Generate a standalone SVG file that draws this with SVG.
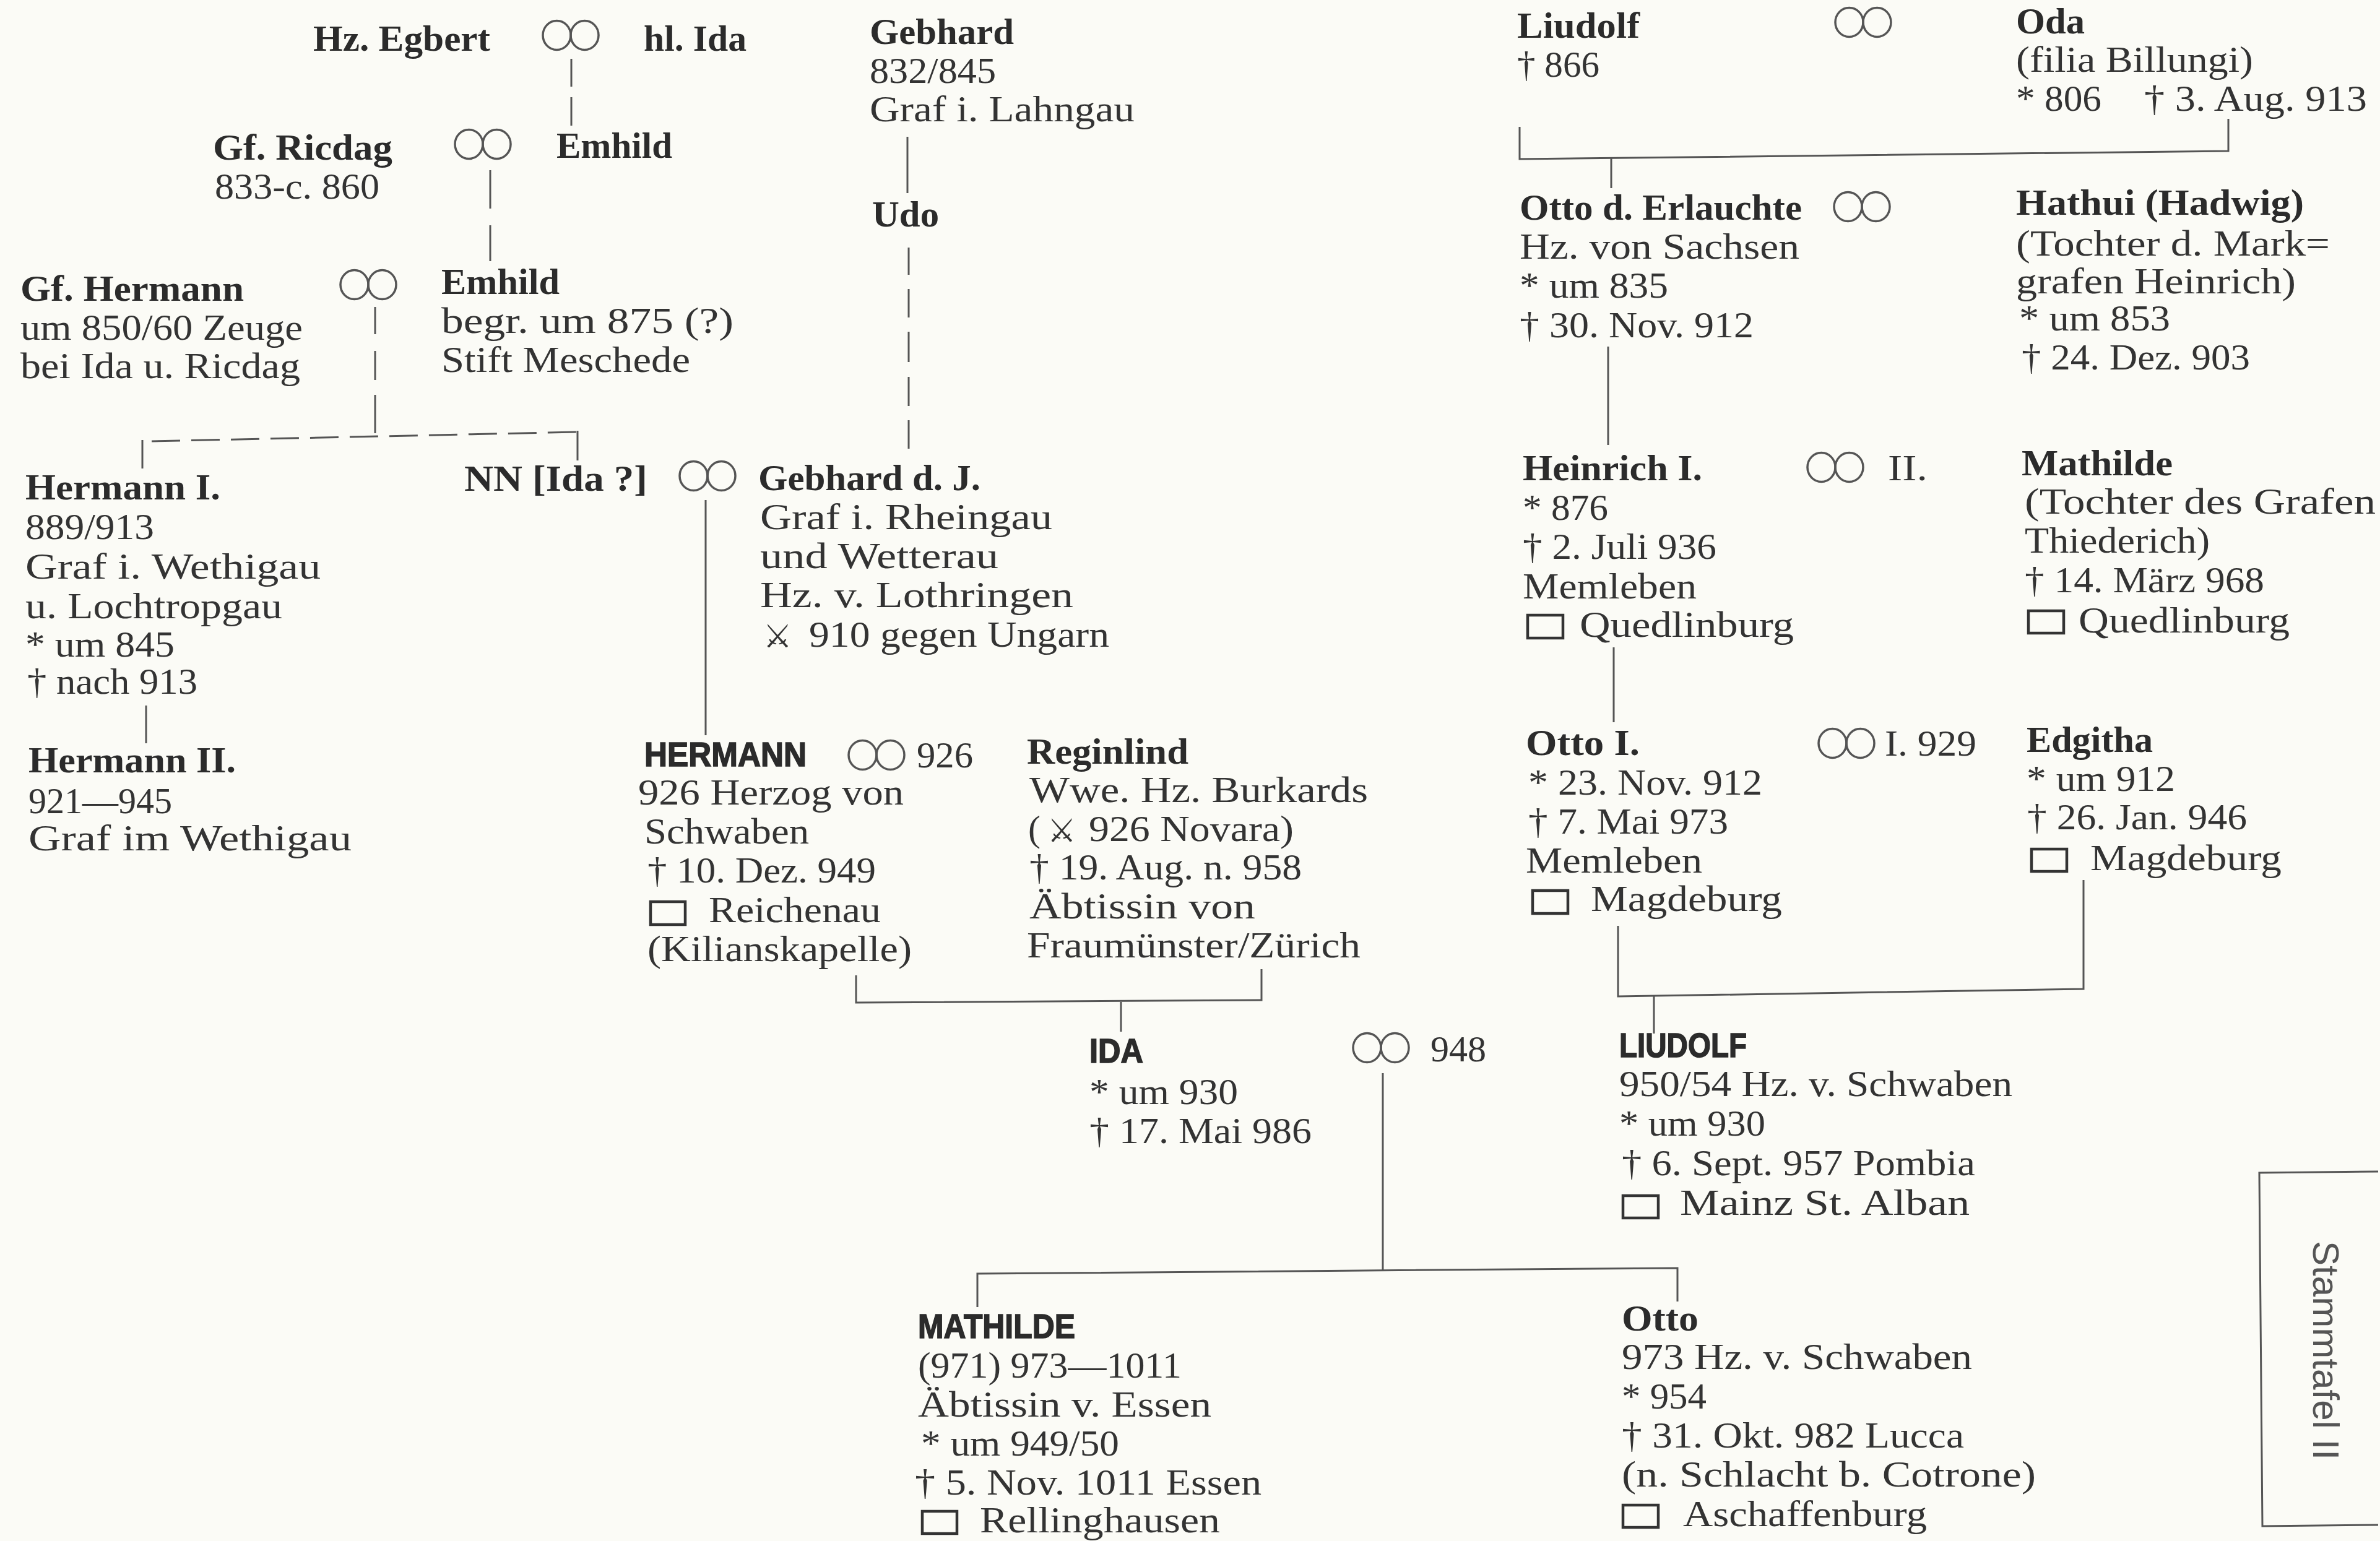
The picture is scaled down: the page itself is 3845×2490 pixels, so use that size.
<svg xmlns="http://www.w3.org/2000/svg" xmlns:xlink="http://www.w3.org/1999/xlink" width="3845" height="2490" viewBox="0 0 3845 2490">
<defs>
<style>
.r{font-family:"Liberation Serif","Times New Roman",serif;font-size:60px;fill:#333}
.b{font-family:"Liberation Serif","Times New Roman",serif;font-size:60px;font-weight:bold;fill:#2b2b2b}
.s{font-family:"Liberation Sans",Arial,sans-serif;font-size:56px;font-weight:bold;fill:#2b2b2b;stroke:#2b2b2b;stroke-width:1.6}
.sym{font-family:"DejaVu Sans",sans-serif;font-size:52px;fill:#333}
.lab{font-family:"Liberation Sans",Arial,sans-serif;font-size:60px;fill:#555}
.ln{stroke:#555;stroke-width:3;fill:none}
.box{stroke:#333;stroke-width:4.5;fill:none}
.inf{stroke:#555;stroke-width:3.5;fill:none}
</style>
<g id="inf">
<ellipse class="inf" cx="-22.5" cy="0" rx="22.5" ry="23.5"/>
<ellipse class="inf" cx="22.5" cy="0" rx="22.5" ry="23.5"/>
</g>
</defs>
<rect x="0" y="0" width="3845" height="2490" fill="#fbfbf6"/>

<g id="connectors">
<line class="ln" x1="923" y1="95" x2="923" y2="140"/>
<line class="ln" x1="923" y1="157" x2="923" y2="203"/>
<line class="ln" x1="792" y1="275" x2="792" y2="337"/>
<line class="ln" x1="792" y1="364" x2="792" y2="422"/>
<line class="ln" x1="606" y1="496" x2="606" y2="540"/>
<line class="ln" x1="606" y1="567" x2="606" y2="614"/>
<line class="ln" x1="606" y1="638" x2="606" y2="700"/>
<line class="ln" x1="245" y1="713" x2="933" y2="698" stroke-dasharray="46 18"/>
<line class="ln" x1="230" y1="711" x2="230" y2="757"/>
<line class="ln" x1="933" y1="696" x2="933" y2="744"/>
<line class="ln" x1="236" y1="1140" x2="236" y2="1201"/>
<line class="ln" x1="1140" y1="808" x2="1140" y2="1188"/>
<line class="ln" x1="1466" y1="221" x2="1466" y2="312"/>
<line class="ln" x1="1468" y1="400" x2="1468" y2="444"/>
<line class="ln" x1="1468" y1="467" x2="1468" y2="513"/>
<line class="ln" x1="1468" y1="536" x2="1468" y2="585"/>
<line class="ln" x1="1468" y1="609" x2="1468" y2="656"/>
<line class="ln" x1="1468" y1="679" x2="1468" y2="725"/>
<polyline class="ln" points="1383,1576 1383,1620 2038,1616 2038,1566"/>
<line class="ln" x1="1811" y1="1619" x2="1811" y2="1667"/>
<line class="ln" x1="2234" y1="1734" x2="2234" y2="2054"/>
<polyline class="ln" points="1579,2112 1579,2058 2710,2049 2710,2103"/>
<polyline class="ln" points="2455,205 2455,257 3600,244 3600,192"/>
<line class="ln" x1="2603" y1="256" x2="2603" y2="304"/>
<line class="ln" x1="2598" y1="560" x2="2598" y2="719"/>
<line class="ln" x1="2607" y1="1046" x2="2607" y2="1167"/>
<polyline class="ln" points="2614,1496 2614,1610 3366,1598 3366,1422"/>
<line class="ln" x1="2672" y1="1609" x2="2672" y2="1670"/>
</g>

<g id="marriages">
<use xlink:href="#inf" href="#inf" x="922" y="57"/>
<use xlink:href="#inf" href="#inf" x="780" y="233"/>
<use xlink:href="#inf" href="#inf" x="595" y="460"/>
<use xlink:href="#inf" href="#inf" x="1143" y="769"/>
<use xlink:href="#inf" href="#inf" x="1416" y="1220"/>
<text class="r" x="1481" y="1240" textLength="91" lengthAdjust="spacingAndGlyphs">926</text>
<use xlink:href="#inf" href="#inf" x="2231" y="1693"/>
<text class="r" x="2311" y="1715" textLength="90" lengthAdjust="spacingAndGlyphs">948</text>
<use xlink:href="#inf" href="#inf" x="3010" y="36"/>
<use xlink:href="#inf" href="#inf" x="3008" y="334"/>
<use xlink:href="#inf" href="#inf" x="2965" y="755"/>
<text class="r" x="3050" y="776" textLength="64" lengthAdjust="spacingAndGlyphs">II.</text>
<use xlink:href="#inf" href="#inf" x="2983" y="1201"/>
<text class="r" x="3045" y="1221" textLength="148" lengthAdjust="spacingAndGlyphs">I. 929</text>
</g>

<g id="egbert"><text class="b" x="506" y="82" textLength="286" lengthAdjust="spacingAndGlyphs">Hz. Egbert</text></g>
<g id="ida-hl"><text class="b" x="1040" y="82" textLength="166" lengthAdjust="spacingAndGlyphs">hl. Ida</text></g>
<g id="ricdag">
<text class="b" x="344" y="258" textLength="290" lengthAdjust="spacingAndGlyphs">Gf. Ricdag</text>
<text class="r" x="347" y="321" textLength="266" lengthAdjust="spacingAndGlyphs">833-c. 860</text>
</g>
<g id="emhild1"><text class="b" x="899" y="255" textLength="187" lengthAdjust="spacingAndGlyphs">Emhild</text></g>
<g id="hermann-gf">
<text class="b" x="33" y="486" textLength="361" lengthAdjust="spacingAndGlyphs">Gf. Hermann</text>
<text class="r" x="33" y="549" textLength="456" lengthAdjust="spacingAndGlyphs">um 850/60 Zeuge</text>
<text class="r" x="33" y="611" textLength="452" lengthAdjust="spacingAndGlyphs">bei Ida u. Ricdag</text>
</g>
<g id="emhild2">
<text class="b" x="713" y="475" textLength="191" lengthAdjust="spacingAndGlyphs">Emhild</text>
<text class="r" x="713" y="538" textLength="472" lengthAdjust="spacingAndGlyphs">begr. um 875 (?)</text>
<text class="r" x="713" y="601" textLength="402" lengthAdjust="spacingAndGlyphs">Stift Meschede</text>
</g>
<g id="hermann1">
<text class="b" x="41" y="807" textLength="315" lengthAdjust="spacingAndGlyphs">Hermann I.</text>
<text class="r" x="41" y="871" textLength="208" lengthAdjust="spacingAndGlyphs">889/913</text>
<text class="r" x="41" y="935" textLength="477" lengthAdjust="spacingAndGlyphs">Graf i. Wethigau</text>
<text class="r" x="41" y="999" textLength="415" lengthAdjust="spacingAndGlyphs">u. Lochtropgau</text>
<text class="r" x="41" y="1061" textLength="241" lengthAdjust="spacingAndGlyphs">* um 845</text>
<text class="r" x="44" y="1121" textLength="275" lengthAdjust="spacingAndGlyphs">† nach 913</text>
</g>
<g id="hermann2">
<text class="b" x="46" y="1248" textLength="335" lengthAdjust="spacingAndGlyphs">Hermann II.</text>
<text class="r" x="46" y="1314" textLength="232" lengthAdjust="spacingAndGlyphs">921—945</text>
<text class="r" x="46" y="1374" textLength="522" lengthAdjust="spacingAndGlyphs">Graf im Wethigau</text>
</g>
<g id="nn"><text class="b" x="750" y="793" textLength="296" lengthAdjust="spacingAndGlyphs">NN [Ida ?]</text></g>
<g id="gebhard">
<text class="b" x="1405" y="71" textLength="233" lengthAdjust="spacingAndGlyphs">Gebhard</text>
<text class="r" x="1405" y="134" textLength="204" lengthAdjust="spacingAndGlyphs">832/845</text>
<text class="r" x="1405" y="196" textLength="428" lengthAdjust="spacingAndGlyphs">Graf i. Lahngau</text>
</g>
<g id="udo"><text class="b" x="1409" y="366" textLength="108" lengthAdjust="spacingAndGlyphs">Udo</text></g>
<g id="gebhard-dj">
<text class="b" x="1225" y="792" textLength="359" lengthAdjust="spacingAndGlyphs">Gebhard d. J.</text>
<text class="r" x="1228" y="855" textLength="472" lengthAdjust="spacingAndGlyphs">Graf i. Rheingau</text>
<text class="r" x="1228" y="918" textLength="385" lengthAdjust="spacingAndGlyphs">und Wetterau</text>
<text class="r" x="1228" y="981" textLength="506" lengthAdjust="spacingAndGlyphs">Hz. v. Lothringen</text>
<text class="sym" x="1233" y="1046">⚔</text>
<text class="r" x="1307" y="1045" textLength="485" lengthAdjust="spacingAndGlyphs">910 gegen Ungarn</text>
</g>
<g id="hermann-hz">
<text class="s" x="1041" y="1238" textLength="262" lengthAdjust="spacingAndGlyphs">HERMANN</text>
<text class="r" x="1031" y="1300" textLength="429" lengthAdjust="spacingAndGlyphs">926 Herzog von</text>
<text class="r" x="1041" y="1363" textLength="266" lengthAdjust="spacingAndGlyphs">Schwaben</text>
<text class="r" x="1046" y="1426" textLength="369" lengthAdjust="spacingAndGlyphs">† 10. Dez. 949</text>
<rect class="box" x="1051" y="1457" width="56" height="37"/>
<text class="r" x="1145" y="1490" textLength="278" lengthAdjust="spacingAndGlyphs">Reichenau</text>
<text class="r" x="1046" y="1553" textLength="427" lengthAdjust="spacingAndGlyphs">(Kilianskapelle)</text>
</g>
<g id="reginlind">
<text class="b" x="1659" y="1234" textLength="261" lengthAdjust="spacingAndGlyphs">Reginlind</text>
<text class="r" x="1663" y="1296" textLength="547" lengthAdjust="spacingAndGlyphs">Wwe. Hz. Burkards</text>
<text class="r" x="1661" y="1359">(</text>
<text class="sym" x="1692" y="1360">⚔</text>
<text class="r" x="1759" y="1359" textLength="331" lengthAdjust="spacingAndGlyphs">926 Novara)</text>
<text class="r" x="1663" y="1421" textLength="440" lengthAdjust="spacingAndGlyphs">† 19. Aug. n. 958</text>
<text class="r" x="1663" y="1484" textLength="365" lengthAdjust="spacingAndGlyphs">Äbtissin von</text>
<text class="r" x="1659" y="1547" textLength="539" lengthAdjust="spacingAndGlyphs">Fraumünster/Zürich</text>
</g>
<g id="ida">
<text class="s" x="1760" y="1717" textLength="87" lengthAdjust="spacingAndGlyphs">IDA</text>
<text class="r" x="1760" y="1784" textLength="240" lengthAdjust="spacingAndGlyphs">* um 930</text>
<text class="r" x="1760" y="1847" textLength="359" lengthAdjust="spacingAndGlyphs">† 17. Mai 986</text>
</g>
<g id="mathilde-abt">
<text class="s" x="1483" y="2162" textLength="254" lengthAdjust="spacingAndGlyphs">MATHILDE</text>
<text class="r" x="1483" y="2226" textLength="426" lengthAdjust="spacingAndGlyphs">(971) 973—1011</text>
<text class="r" x="1483" y="2289" textLength="474" lengthAdjust="spacingAndGlyphs">Äbtissin v. Essen</text>
<text class="r" x="1488" y="2352" textLength="320" lengthAdjust="spacingAndGlyphs">* um 949/50</text>
<text class="r" x="1478" y="2415" textLength="560" lengthAdjust="spacingAndGlyphs">† 5. Nov. 1011 Essen</text>
<rect class="box" x="1490" y="2442" width="56" height="36"/>
<text class="r" x="1583" y="2476" textLength="388" lengthAdjust="spacingAndGlyphs">Rellinghausen</text>
</g>
<g id="liudolf-sr">
<text class="b" x="2451" y="61" textLength="198" lengthAdjust="spacingAndGlyphs">Liudolf</text>
<text class="r" x="2451" y="124" textLength="133" lengthAdjust="spacingAndGlyphs">† 866</text>
</g>
<g id="oda">
<text class="b" x="3257" y="54" textLength="111" lengthAdjust="spacingAndGlyphs">Oda</text>
<text class="r" x="3257" y="116" textLength="383" lengthAdjust="spacingAndGlyphs">(filia Billungi)</text>
<text class="r" x="3257" y="179" textLength="138" lengthAdjust="spacingAndGlyphs">* 806</text>
<text class="r" x="3464" y="179" textLength="360" lengthAdjust="spacingAndGlyphs">† 3. Aug. 913</text>
</g>
<g id="otto-erl">
<text class="b" x="2455" y="355" textLength="456" lengthAdjust="spacingAndGlyphs">Otto d. Erlauchte</text>
<text class="r" x="2455" y="418" textLength="452" lengthAdjust="spacingAndGlyphs">Hz. von Sachsen</text>
<text class="r" x="2455" y="481" textLength="240" lengthAdjust="spacingAndGlyphs">* um 835</text>
<text class="r" x="2455" y="545" textLength="378" lengthAdjust="spacingAndGlyphs">† 30. Nov. 912</text>
</g>
<g id="hathui">
<text class="b" x="3257" y="347" textLength="465" lengthAdjust="spacingAndGlyphs">Hathui (Hadwig)</text>
<text class="r" x="3257" y="413" textLength="507" lengthAdjust="spacingAndGlyphs">(Tochter d. Mark=</text>
<text class="r" x="3257" y="474" textLength="452" lengthAdjust="spacingAndGlyphs">grafen Heinrich)</text>
<text class="r" x="3262" y="534" textLength="244" lengthAdjust="spacingAndGlyphs">* um 853</text>
<text class="r" x="3266" y="597" textLength="369" lengthAdjust="spacingAndGlyphs">† 24. Dez. 903</text>
</g>
<g id="heinrich1">
<text class="b" x="2460" y="776" textLength="290" lengthAdjust="spacingAndGlyphs">Heinrich I.</text>
<text class="r" x="2460" y="840" textLength="138" lengthAdjust="spacingAndGlyphs">* 876</text>
<text class="r" x="2460" y="903" textLength="313" lengthAdjust="spacingAndGlyphs">† 2. Juli 936</text>
<text class="r" x="2460" y="967" textLength="281" lengthAdjust="spacingAndGlyphs">Memleben</text>
<rect class="box" x="2468" y="994" width="57" height="37"/>
<text class="r" x="2552" y="1029" textLength="346" lengthAdjust="spacingAndGlyphs">Quedlinburg</text>
</g>
<g id="mathilde">
<text class="b" x="3266" y="768" textLength="244" lengthAdjust="spacingAndGlyphs">Mathilde</text>
<text class="r" x="3271" y="830" textLength="567" lengthAdjust="spacingAndGlyphs">(Tochter des Grafen</text>
<text class="r" x="3271" y="893" textLength="299" lengthAdjust="spacingAndGlyphs">Thiederich)</text>
<text class="r" x="3271" y="957" textLength="387" lengthAdjust="spacingAndGlyphs">† 14. März 968</text>
<rect class="box" x="3277" y="987" width="57" height="36"/>
<text class="r" x="3358" y="1022" textLength="341" lengthAdjust="spacingAndGlyphs">Quedlinburg</text>
</g>
<g id="otto1">
<text class="b" x="2465" y="1220" textLength="184" lengthAdjust="spacingAndGlyphs">Otto I.</text>
<text class="r" x="2469" y="1284" textLength="378" lengthAdjust="spacingAndGlyphs">* 23. Nov. 912</text>
<text class="r" x="2469" y="1347" textLength="323" lengthAdjust="spacingAndGlyphs">† 7. Mai 973</text>
<text class="r" x="2465" y="1410" textLength="285" lengthAdjust="spacingAndGlyphs">Memleben</text>
<rect class="box" x="2476" y="1439" width="57" height="37"/>
<text class="r" x="2570" y="1472" textLength="309" lengthAdjust="spacingAndGlyphs">Magdeburg</text>
</g>
<g id="edgitha">
<text class="b" x="3274" y="1215" textLength="204" lengthAdjust="spacingAndGlyphs">Edgitha</text>
<text class="r" x="3274" y="1278" textLength="240" lengthAdjust="spacingAndGlyphs">* um 912</text>
<text class="r" x="3275" y="1340" textLength="355" lengthAdjust="spacingAndGlyphs">† 26. Jan. 946</text>
<rect class="box" x="3282" y="1372" width="57" height="36"/>
<text class="r" x="3377" y="1406" textLength="309" lengthAdjust="spacingAndGlyphs">Magdeburg</text>
</g>
<g id="liudolf">
<text class="s" x="2616" y="1708" textLength="206" lengthAdjust="spacingAndGlyphs">LIUDOLF</text>
<text class="r" x="2616" y="1771" textLength="635" lengthAdjust="spacingAndGlyphs">950/54 Hz. v. Schwaben</text>
<text class="r" x="2616" y="1835" textLength="236" lengthAdjust="spacingAndGlyphs">* um 930</text>
<text class="r" x="2620" y="1899" textLength="571" lengthAdjust="spacingAndGlyphs">† 6. Sept. 957 Pombia</text>
<rect class="box" x="2622" y="1932" width="57" height="36"/>
<text class="r" x="2714" y="1963" textLength="468" lengthAdjust="spacingAndGlyphs">Mainz St. Alban</text>
</g>
<g id="otto-schw">
<text class="b" x="2620" y="2150" textLength="124" lengthAdjust="spacingAndGlyphs">Otto</text>
<text class="r" x="2620" y="2212" textLength="566" lengthAdjust="spacingAndGlyphs">973 Hz. v. Schwaben</text>
<text class="r" x="2620" y="2276" textLength="137" lengthAdjust="spacingAndGlyphs">* 954</text>
<text class="r" x="2620" y="2339" textLength="553" lengthAdjust="spacingAndGlyphs">† 31. Okt. 982 Lucca</text>
<text class="r" x="2620" y="2402" textLength="669" lengthAdjust="spacingAndGlyphs">(n. Schlacht b. Cotrone)</text>
<rect class="box" x="2622" y="2432" width="57" height="36"/>
<text class="r" x="2719" y="2466" textLength="394" lengthAdjust="spacingAndGlyphs">Aschaffenburg</text>
</g>
<g id="label">
<polyline points="3842,1893 3650,1895 3655,2466 3842,2464" fill="none" stroke="#555" stroke-width="3"/>
<text class="lab" x="3737" y="2005" transform="rotate(90 3737 2005)" textLength="354" lengthAdjust="spacingAndGlyphs">Stammtafel II</text>
</g>
</svg>
